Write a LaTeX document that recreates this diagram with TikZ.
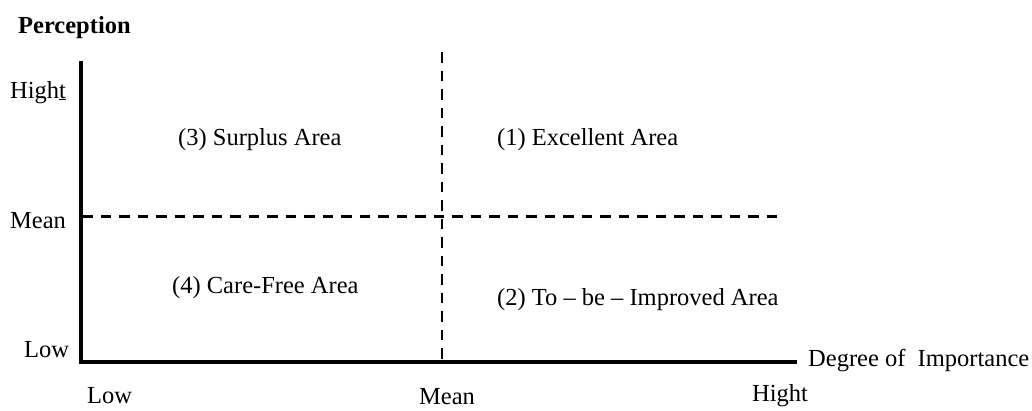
\documentclass[tikz,border=0pt]{standalone}
\usepackage{fontspec}
\setmainfont{Liberation Serif}
\begin{document}
\begin{tikzpicture}[x=1pt,y=-1pt,
  lbl/.style={anchor=base west,inner sep=0pt,font=\fontsize{24.5}{28}\selectfont},
  axisline/.style={line width=4pt,line join=miter},
  guide/.style={line width=2.2pt,dash pattern=on 10.5pt off 8pt}]
\useasboundingbox (0,0) rectangle (1032,410);

% axis corner points
\coordinate (ytop) at (80.5,61);
\coordinate (origin) at (80.5,362);
\coordinate (xend) at (797,362);
% mean guides
\coordinate (hmL) at (82,216.5);
\coordinate (hmR) at (778,216.5);
\coordinate (vmT) at (442,52);
\coordinate (vmB) at (442,362);

\draw[guide] (hmL) -- (hmR);
\draw[guide] (vmT) -- (vmB);
\draw[axisline] (ytop) -- (origin) -- (xend);

% axis titles
\node[lbl,font=\fontsize{24.5}{28}\selectfont\bfseries] (ptitle) at (18,33) {Perception};
\node[lbl] (xtitle) at (808,366) {Degree of\ \ Importance};

% vertical scale
\node[lbl] (yhigh) at (10,98) {High\underline{t}};
\node[lbl] (ymean) at (10,228) {Mean};
\node[lbl] (ylow) at (24,357) {Low};

% horizontal scale
\node[lbl] (xlow) at (87,403) {Low};
\node[lbl] (xmean) at (419,404) {Mean};
\node[lbl] (xhigh) at (752,401) {Hight};

% quadrants
\node[lbl] (q3) at (178,145) {(3) Surplus Area};
\node[lbl] (q1) at (497,145) {(1) Excellent Area};
\node[lbl] (q4) at (172,293) {(4) Care-Free Area};
\node[lbl] (q2) at (497,305) {(2) To -- be -- Improved Area};
\end{tikzpicture}
\end{document}
